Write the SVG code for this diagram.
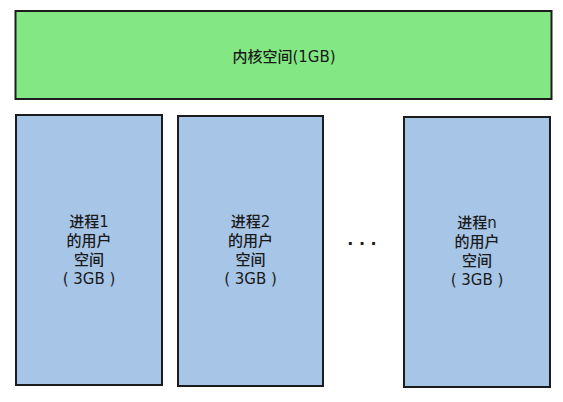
<svg xmlns="http://www.w3.org/2000/svg" width="563" height="402" viewBox="0 0 563 402">
<style>
.box{stroke:#1c1c1c;stroke-width:2}
.k{fill:#83e883}
.u{fill:#a6c5e7}
text{font-family:"DejaVu Sans","Noto Sans CJK SC",sans-serif;font-size:15px;font-weight:500;fill:#1a1a1a;text-anchor:middle}
text.dots{font-weight:bold;font-size:16px}
</style>
<rect width="563" height="402" fill="#ffffff"/>
<g id="kernel">
<rect class="box k" x="15.5" y="11" width="536" height="88"/>
<text x="284" y="62">内核空间(1GB)</text>
</g>
<g id="proc1">
<rect class="box u" x="16" y="115" width="146" height="270"/>
<text x="89" y="227">进程1</text>
<text x="89" y="246">的用户</text>
<text x="89" y="265">空间</text>
<text x="89" y="284">( 3GB )</text>
</g>
<g id="proc2">
<rect class="box u" x="178" y="116" width="145" height="270"/>
<text x="250.5" y="227">进程2</text>
<text x="250.5" y="246">的用户</text>
<text x="250.5" y="265">空间</text>
<text x="250.5" y="284">( 3GB )</text>
</g>
<g id="ellipsis">
<text class="dots" x="362" y="245">. . .</text>
</g>
<g id="procn">
<rect class="box u" x="404" y="117" width="146" height="270"/>
<text x="477" y="228">进程n</text>
<text x="477" y="247">的用户</text>
<text x="477" y="266">空间</text>
<text x="477" y="285">( 3GB )</text>
</g>
<g id="connectors"></g>
</svg>
